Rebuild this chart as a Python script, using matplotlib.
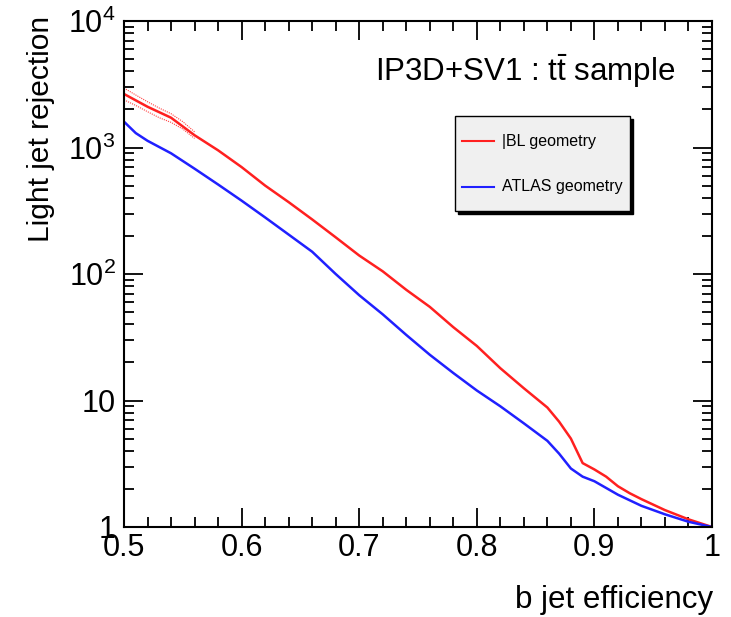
import matplotlib
matplotlib.use("Agg")
import matplotlib.pyplot as plt
import numpy as np
from matplotlib.ticker import FixedLocator, NullFormatter, MultipleLocator

plt.rcParams['font.family'] = ['Liberation Sans', 'DejaVu Sans']
plt.rcParams['mathtext.fontset'] = 'custom'
plt.rcParams['mathtext.rm'] = 'Liberation Sans'
plt.rcParams['mathtext.it'] = 'Liberation Sans:italic'

# IBL geometry (red)
ibl_eff = [0.50, 0.52, 0.54, 0.56, 0.58, 0.60, 0.62, 0.64, 0.66, 0.68, 0.70, 0.72,
           0.74, 0.76, 0.78, 0.80, 0.82, 0.84, 0.86, 0.87, 0.88, 0.89, 0.90, 0.91,
           0.92, 0.93, 0.94, 0.96, 0.98, 1.00]
ibl_rej = [2650, 2100, 1720, 1250, 950, 700, 500, 370, 270, 195, 140, 105,
           75, 55, 38, 27, 18, 12.5, 8.8, 6.8, 5.0, 3.2, 2.85, 2.5,
           2.1, 1.85, 1.66, 1.36, 1.15, 1.0]
# IBL uncertainty band near low efficiency
band_eff = [0.50, 0.51, 0.52, 0.53, 0.54, 0.55, 0.56]
band_up = [2950, 2600, 2300, 2050, 1850, 1600, 1330]
band_dn = [2380, 2150, 1920, 1720, 1580, 1400, 1180]

# ATLAS geometry (blue)
atlas_eff = [0.50, 0.51, 0.52, 0.54, 0.56, 0.58, 0.60, 0.62, 0.64, 0.66, 0.68, 0.70,
             0.72, 0.74, 0.76, 0.78, 0.80, 0.82, 0.84, 0.86, 0.87, 0.88, 0.89, 0.90,
             0.92, 0.94, 0.96, 0.98, 1.00]
atlas_rej = [1600, 1300, 1130, 900, 680, 510, 380, 280, 205, 150, 100, 68,
             48, 33, 23, 16.5, 12, 9.0, 6.6, 4.8, 3.8, 2.9, 2.5, 2.3,
             1.8, 1.47, 1.26, 1.1, 1.0]

ytick_vals = [1, 10, 100, 1000, 10000]
ytick_labels = ['1', '10', r'10$^{2}$', r'10$^{3}$', r'10$^{4}$']
xtick_vals = [0.5, 0.6, 0.7, 0.8, 0.9, 1.0]
xtick_labels = ['0.5', '0.6', '0.7', '0.8', '0.9', '1']

W, H = 731, 617
fig = plt.figure(figsize=(W / 100, H / 100), dpi=100)
ax = fig.add_axes([124 / W, 1 - 527 / H, (712 - 124) / W, (527 - 21) / H])

ax.plot(band_eff, band_up, color='#ff4040', lw=0.8, ls=(0, (1, 1)))
ax.plot(band_eff, band_dn, color='#ff4040', lw=0.8, ls=(0, (1, 1)))
ax.plot(ibl_eff, ibl_rej, color='#ff2020', lw=1.8, label='|BL geometry')
ax.plot(atlas_eff, atlas_rej, color='#2020ff', lw=1.8, label='ATLAS geometry')

ax.set_yscale('log')
ax.set_xlim(0.5, 1.0)
ax.set_ylim(1, 10000)
ax.yaxis.set_major_locator(FixedLocator(ytick_vals))
ax.set_yticklabels(ytick_labels)
ax.set_xticks(xtick_vals)
ax.set_xticklabels(xtick_labels)
ax.xaxis.set_minor_locator(MultipleLocator(0.02))
ax.tick_params(which='both', direction='in', top=True, right=True, labelsize=22, width=1.3)
ax.tick_params(which='major', length=14, pad=4)
ax.tick_params(which='minor', length=7)
ax.tick_params(axis='y', which='major', pad=6)
ax.yaxis.set_minor_formatter(NullFormatter())
for s in ax.spines.values():
    s.set_linewidth(1.5)

fig.text(713 / W, 1 - 600 / H, 'b jet efficiency', fontsize=22.5,
         ha='right', va='center')
fig.text(41 / W, 1 - 16 / H, 'Light jet rejection', fontsize=21.5,
         rotation=90, ha='center', va='top')

ax.text(0.937, 0.901, r'IP3D+SV1 : t$\bar{\mathrm{t}}$ sample', transform=ax.transAxes,
        ha='right', va='center', fontsize=22.5)

leg = ax.legend(loc='upper left', bbox_to_anchor=(0.563, 0.812), fontsize=11.5,
                frameon=True, fancybox=False, edgecolor='black', facecolor='#f0f0f0',
                framealpha=1, handlelength=2.0, handletextpad=0.5,
                handleheight=3.0, labelspacing=0.65, borderpad=0.45,
                borderaxespad=0, shadow={'color': 'black', 'alpha': 1.0})
leg.get_frame().set_linewidth(1.0)
for line in leg.get_lines():
    line.set_linewidth(1.5)
    line.set_ydata(np.asarray(line.get_ydata(), dtype=float) - 5.0)

fig.savefig('out.png', dpi=100)
